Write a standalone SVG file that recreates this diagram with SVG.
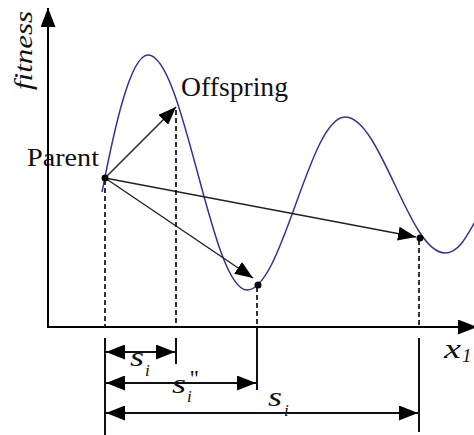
<svg xmlns="http://www.w3.org/2000/svg" width="474" height="435" viewBox="0 0 474 435">
<style>
.ax{stroke:#000;stroke-width:2;fill:none}
.ar{stroke:#222;stroke-width:1.4;fill:none}
.dim{stroke:#111;stroke-width:2;fill:none}
.dash{stroke:#000;stroke-width:1.6;fill:none;stroke-dasharray:5,3}
.crv{stroke:#33339a;stroke-width:1.5;fill:none}
.t{fill:#111;font-family:'Liberation Serif','Times New Roman','DejaVu Serif',serif}
.it{font-style:italic}
.dot{fill:#000}
</style>
<defs>
<marker id="ah" viewBox="0 0 19 15" refX="19" refY="7.5" markerWidth="19" markerHeight="15" markerUnits="userSpaceOnUse" orient="auto-start-reverse">
<path d="M0,0 L19,7.5 L0,15 z" fill="#000"/>
</marker>
<marker id="ahs" viewBox="0 0 18 14" refX="18" refY="7" markerWidth="18" markerHeight="14" markerUnits="userSpaceOnUse" orient="auto">
<path d="M0,0 L18,7 L0,14 z" fill="#000"/>
</marker>
</defs>
<g id="axes">
<line class="ax" x1="48" y1="327" x2="48" y2="8" marker-end="url(#ah)"/>
<line class="ax" x1="47" y1="327" x2="477" y2="327" marker-end="url(#ah)"/>
<text class="t it" transform="translate(32,90) rotate(-90)" font-size="26" textLength="79" lengthAdjust="spacingAndGlyphs">fitness</text>
<text class="t it" x="444" y="358" font-size="27" textLength="17" lengthAdjust="spacingAndGlyphs">x</text>
<text class="t it" x="462" y="362" font-size="19">1</text>
</g>
<g id="curve">
<path class="crv" d="M102,192 C110,152 128,55 148,55 C184,55 211,290 247,290 C282.6,290 309.4,117 345,117 C381,117 409,253 445,253 C458,253 466,238 476,220"/>
</g>
<g id="connectors">
<line class="ar" x1="105" y1="178" x2="176" y2="107" marker-end="url(#ahs)"/>
<line class="ar" x1="105" y1="178" x2="253" y2="278" marker-end="url(#ahs)"/>
<line class="ar" x1="105" y1="178" x2="416" y2="237" marker-end="url(#ahs)"/>
<line class="dash" x1="105" y1="180" x2="105" y2="327"/>
<line class="dash" x1="176" y1="110" x2="176" y2="327"/>
<line class="dash" x1="257" y1="287" x2="257" y2="327"/>
<line class="dash" x1="419" y1="240" x2="419" y2="327"/>
<line class="dim" x1="105" y1="338" x2="105" y2="435"/>
<line class="dim" x1="176" y1="338" x2="176" y2="364"/>
<line class="dim" x1="257" y1="327" x2="257" y2="390"/>
<line class="dim" x1="419" y1="338" x2="419" y2="432"/>
<line class="dim" x1="106" y1="352" x2="175" y2="352" marker-start="url(#ah)" marker-end="url(#ah)"/>
<line class="dim" x1="106" y1="383" x2="256" y2="383" marker-start="url(#ah)" marker-end="url(#ah)"/>
<line class="dim" x1="106" y1="413" x2="418" y2="413" marker-start="url(#ah)" marker-end="url(#ah)"/>
</g>
<g id="parent">
<circle class="dot" cx="105" cy="178" r="3.5"/>
<text class="t" x="27" y="166" font-size="26" textLength="72" lengthAdjust="spacingAndGlyphs">Parent</text>
</g>
<g id="offspring">
<text class="t" x="181" y="96" font-size="27" textLength="107" lengthAdjust="spacingAndGlyphs">Offspring</text>
</g>
<g id="point3">
<circle class="dot" cx="258" cy="285" r="3.5"/>
</g>
<g id="point4">
<circle class="dot" cx="420" cy="238" r="3.5"/>
</g>
<g id="labels">
<text class="t it" x="130" y="366" font-size="27" textLength="14" lengthAdjust="spacingAndGlyphs">s</text>
<text class="t it" x="145" y="376" font-size="17">i</text>
<text class="t it" x="172" y="393" font-size="27" textLength="14" lengthAdjust="spacingAndGlyphs">s</text>
<text class="t it" x="187" y="402" font-size="17">i</text>
<text class="t" x="190" y="386" font-size="24">''</text>
<text class="t it" x="268" y="406" font-size="27" textLength="14" lengthAdjust="spacingAndGlyphs">s</text>
<text class="t it" x="284" y="416" font-size="17">i</text>
</g>
</svg>
